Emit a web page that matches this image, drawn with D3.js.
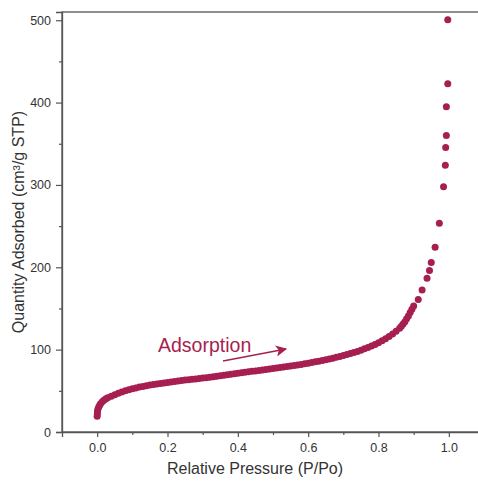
<!DOCTYPE html>
<html>
<head>
<meta charset="utf-8">
<script src="https://cdn.jsdelivr.net/npm/d3@7"></script>
<style>
  body { margin: 0; background: #fff; }
  text { font-family: "Liberation Sans", Arial, sans-serif; }
</style>
</head>
<body>
<div id="chart-container"></div>
<script>
const pressure = [
  0, 0.0005, 0.001, 0.002, 0.004, 0.007, 0.01, 0.015, 0.02, 0.025, 0.03, 0.04, 0.05,
  0.06, 0.07, 0.08, 0.09, 0.10, 0.11, 0.12, 0.13, 0.14, 0.15, 0.16, 0.17, 0.18, 0.19,
  0.20, 0.21, 0.22, 0.23, 0.24, 0.25, 0.26, 0.27, 0.28, 0.29, 0.30, 0.31, 0.32, 0.33,
  0.34, 0.35, 0.36, 0.37, 0.38, 0.39, 0.40, 0.41, 0.42, 0.43, 0.44, 0.45, 0.46, 0.47,
  0.48, 0.49, 0.50, 0.51, 0.52, 0.53, 0.54, 0.55, 0.56, 0.57, 0.58, 0.59, 0.60, 0.61,
  0.62, 0.63, 0.64, 0.65, 0.66, 0.67, 0.68, 0.69, 0.70, 0.71, 0.72, 0.73, 0.74, 0.75,
  0.76, 0.77, 0.78, 0.79, 0.80, 0.81, 0.82, 0.83, 0.84, 0.85, 0.86, 0.865, 0.87, 0.875,
  0.88, 0.885, 0.89, 0.895, 0.90, 0.913, 0.924, 0.938, 0.945, 0.950, 0.961, 0.973,
  0.985, 0.990, 0.991, 0.993, 0.993, 0.997, 0.997
];
const quantity = [
  19, 22, 25, 27.5, 30, 32.5, 34.5, 37, 39, 40.5, 41.7, 43.5, 45.3,
  47, 48.5, 50, 51.3, 52.5, 53.5, 54.5, 55.4, 56.2, 57, 57.7, 58.4, 59, 59.6,
  60.2, 60.7, 61.3, 61.9, 62.4, 63, 63.5, 64, 64.5, 65, 65.5, 66, 66.6, 67.2,
  67.8, 68.4, 69, 69.6, 70.2, 70.8, 71.4, 72, 72.6, 73.1, 73.7, 74.2, 74.8, 75.3,
  75.9, 76.4, 77, 77.6, 78.2, 78.8, 79.4, 80, 80.7, 81.4, 82.1, 82.8, 83.6, 84.4,
  85.2, 86, 86.9, 87.8, 88.7, 89.7, 90.7, 91.8, 92.9, 94, 95.2, 96.5, 97.9, 99.4,
  101, 102.7, 104.5, 106.4, 108.5, 110.8, 113.3, 116, 119, 122.3, 126, 128.5, 131, 134,
  137.5, 141, 145, 149, 153, 161, 172.5, 186.7, 196, 205.7, 224.4, 253.6,
  297.7, 324, 345.5, 360, 395, 423, 500.6
];
const xTicks = [0, 0.2, 0.4, 0.6, 0.8, 1.0];
const yTicks = [0, 100, 200, 300, 400, 500];

const points = pressure.map((p, i) => ({ p: p, q: quantity[i] }));

// --- setup ---
const totalWidth = 478;
const totalHeight = 482;
const plotLeft = 62, plotTop = 12, plotBottom = 432, plotRight = 484;
const dotColor = "#a61f50";

const svg = d3
  .select("#chart-container")
  .append("svg")
  .attr("width", totalWidth)
  .attr("height", totalHeight);

const x = d3.scaleLinear().domain([-0.1, 1.1]).range([plotLeft, plotRight]);
const y = d3.scaleLinear().domain([0, 510]).range([plotBottom, plotTop]);

// frame (top edge; right edge falls outside the picture)
svg
  .append("rect")
  .attr("x", plotLeft)
  .attr("y", plotTop)
  .attr("width", plotRight - plotLeft)
  .attr("height", plotBottom - plotTop)
  .attr("fill", "none")
  .attr("stroke", "#555")
  .attr("stroke-width", 1.3);

// --- axes ---
svg
  .append("g")
  .attr("transform", `translate(0,${plotBottom})`)
  .call(d3.axisBottom(x).tickValues(xTicks).tickFormat(d3.format(".1f")).tickSize(5).tickPadding(6));

// minor x ticks
svg
  .append("g")
  .attr("transform", `translate(0,${plotBottom})`)
  .call(d3.axisBottom(x).tickValues([0.1, 0.3, 0.5, 0.7, 0.9]).tickFormat("").tickSize(3))
  .call((g) => g.select(".domain").remove());

svg
  .append("g")
  .attr("transform", `translate(${plotLeft},0)`)
  .call(d3.axisLeft(y).tickValues(yTicks).tickSize(6).tickPadding(5));

// minor y ticks
svg
  .append("g")
  .attr("transform", `translate(${plotLeft},0)`)
  .call(d3.axisLeft(y).tickValues([50, 150, 250, 350, 450]).tickFormat("").tickSize(3))
  .call((g) => g.select(".domain").remove());

svg.selectAll(".domain").attr("stroke", "#555").attr("stroke-width", 1.3);
svg.selectAll(".tick line").attr("stroke", "#555").attr("stroke-width", 1.2);
svg
  .selectAll(".tick text")
  .attr("fill", "#333")
  .style("font-size", "12.5px")
  .style("font-family", '"Liberation Sans", Arial, sans-serif');

// axis titles
svg
  .append("text")
  .attr("x", (plotLeft + 448) / 2)
  .attr("y", 474)
  .attr("text-anchor", "middle")
  .attr("fill", "#333")
  .style("font-size", "16px")
  .text("Relative Pressure (P/Po)");

svg
  .append("text")
  .attr("transform", `translate(24,${(plotTop + plotBottom) / 2}) rotate(-90)`)
  .attr("text-anchor", "middle")
  .attr("fill", "#333")
  .style("font-size", "16px")
  .text("Quantity Adsorbed (cm³/g STP)");

// --- points ---
svg
  .append("g")
  .selectAll("circle")
  .data(points)
  .enter()
  .append("circle")
  .attr("cx", (d) => x(d.p))
  .attr("cy", (d) => y(d.q))
  .attr("r", 3.5)
  .attr("fill", dotColor);

// --- annotation ---
svg
  .append("defs")
  .append("marker")
  .attr("id", "arrow")
  .attr("viewBox", "0 0 10 10")
  .attr("refX", 9)
  .attr("refY", 5)
  .attr("markerWidth", 8)
  .attr("markerHeight", 7)
  .attr("markerUnits", "strokeWidth")
  .attr("orient", "auto")
  .append("path")
  .attr("d", "M0,0 L10,5 L0,10 L2.5,5 z")
  .attr("fill", dotColor);

svg
  .append("text")
  .attr("x", 158)
  .attr("y", 352)
  .attr("fill", dotColor)
  .style("font-size", "19.5px")
  .text("Adsorption");

svg
  .append("line")
  .attr("x1", 223)
  .attr("y1", 361)
  .attr("x2", 286)
  .attr("y2", 349)
  .attr("stroke", dotColor)
  .attr("stroke-width", 1.6)
  .attr("marker-end", "url(#arrow)");
</script>
</body>
</html>
